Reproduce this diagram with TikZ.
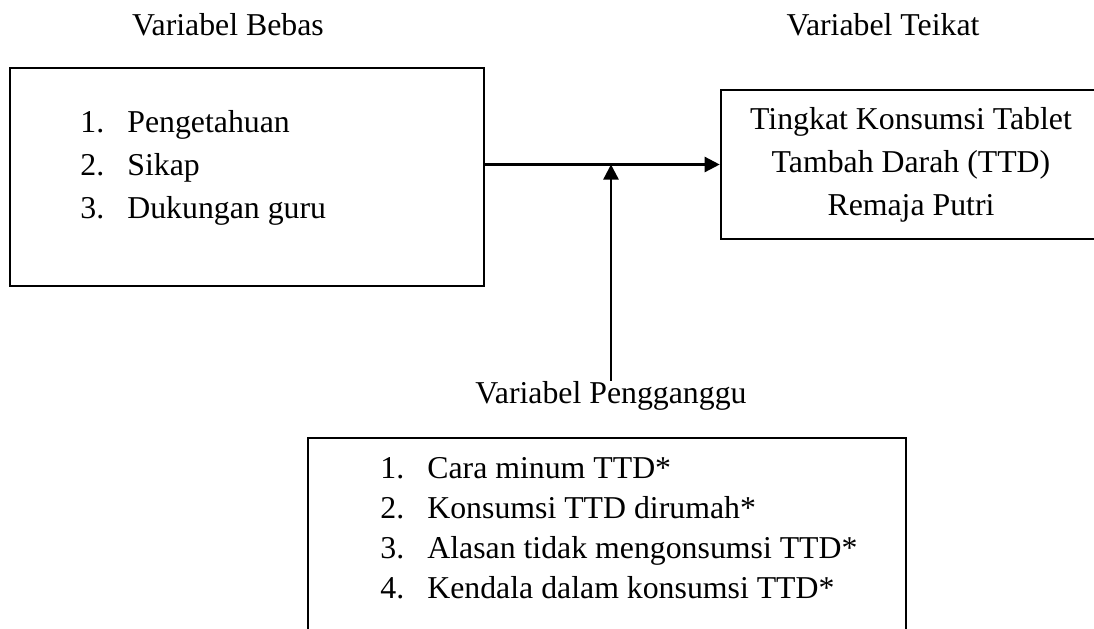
\documentclass[tikz,border=0pt]{standalone}
\usepackage{fontspec}
\setmainfont{Liberation Serif}
\usetikzlibrary{arrows.meta}

\begin{document}
\begin{tikzpicture}[x=0.5pt, y=-0.5pt, >={Triangle[length=7.5pt,width=7.5pt]},
        kotak/.style = {draw, line width=1.3pt, inner sep=0pt},
        judul/.style = {anchor=base, inner sep=0pt, font=\fontsize{15.9}{21.5}\selectfont},
        daftar/.style = {anchor=base west, inner sep=0pt}]
        \clip (0,0) rectangle (1094,628);
        % judul variabel
        \node[judul] (tbebas) at (228,35) {Variabel Bebas};
        \node[judul] (tterikat) at (883,35) {Variabel Teikat};
        \node[judul] (tganggu) at (611,403) {Variabel Pengganggu};
        % kotak
        \node[kotak, minimum width=237pt, minimum height=109pt] (bebas) at (247,177) {};
        \node[kotak, minimum width=190pt, minimum height=74.5pt, align=center,
              font=\fontsize{15.9}{21.5}\selectfont] (terikat) at (911,164.5)
              {Tingkat Konsumsi Tablet\\Tambah Darah (TTD)\\Remaja Putri};
        \node[kotak, minimum width=299pt, minimum height=106pt] (ganggu) at (607,544) {};
        % isi kotak
        \node[daftar, font=\fontsize{15.9}{21.5}\selectfont] (lbebas) at (80,132)
              {\begin{tabular}[t]{@{}p{23.5pt}@{}l@{}}
               1. & Pengetahuan\\
               2. & Sikap\\
               3. & Dukungan guru
               \end{tabular}};
        \node[daftar, font=\fontsize{15.9}{20}\selectfont] (lganggu) at (380,478)
              {\begin{tabular}[t]{@{}p{23.5pt}@{}l@{}}
               1. & Cara minum TTD*\\
               2. & Konsumsi TTD dirumah*\\
               3. & Alasan tidak mengonsumsi TTD*\\
               4. & Kendala dalam konsumsi TTD*
               \end{tabular}};
        % panah
        \draw[->, line width=1.2pt] (bebas.east |- terikat.west) -- (terikat.west);
        \draw[->, line width=1.2pt] (tganggu.north) -- (tganggu.north |- terikat.west);
\end{tikzpicture}
\end{document}
